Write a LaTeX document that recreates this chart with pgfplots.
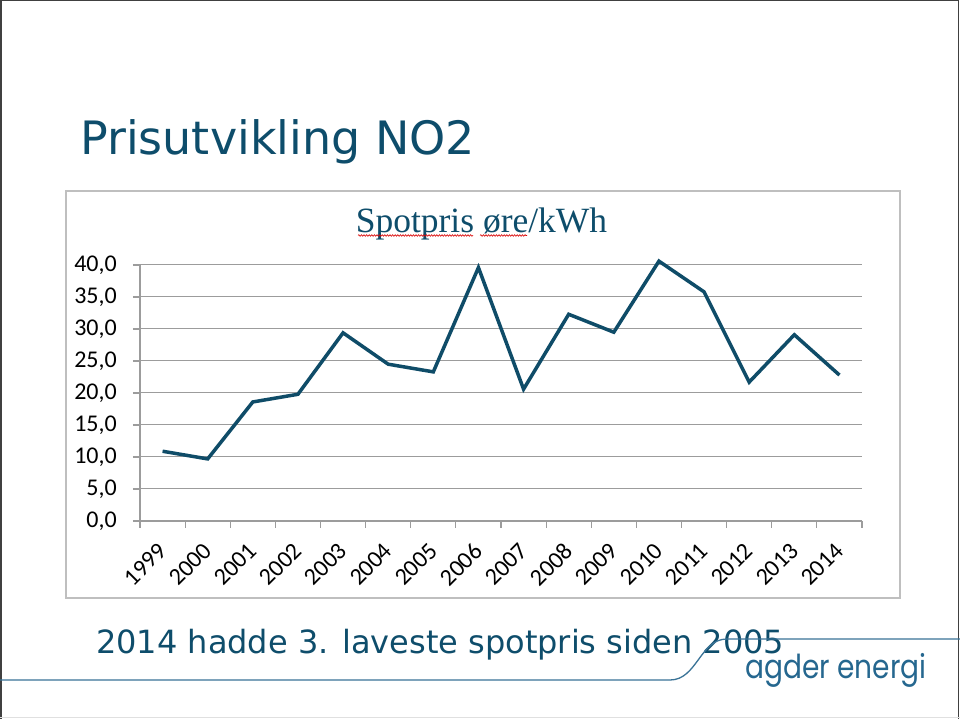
\documentclass[border=0pt]{standalone}
\usepackage{fontspec}
\setmainfont{Carlito}
\newfontfamily\titlefont{DejaVu Sans}
\newfontfamily\charttitlefont{Liberation Serif}
\newfontfamily\logofont[FakeStretch=0.85]{Poppins}
\usepackage{pgfplots}
\pgfplotsset{compat=1.18}
\usetikzlibrary{decorations.pathmorphing}
\definecolor{teal1}{HTML}{0E4D6B}
\definecolor{line1}{HTML}{0F4C68}
\definecolor{grid1}{HTML}{9C9C9C}
\definecolor{deco}{HTML}{3A7397}
\definecolor{logo}{HTML}{25678F}
\begin{document}
\begin{tikzpicture}[x=1pt,y=1pt]
\useasboundingbox (0,0) rectangle (960,719);
\fill[white] (0,0) rectangle (960,719);
% slide frame
\draw[black!75, line width=1.5pt] (0.75,0) -- (0.75,718.25) -- (958.5,718.25) -- (958.5,0);
\draw[black!12, line width=1.2pt] (0,1.2) -- (960,1.2);
% slide title
\node[anchor=base west, inner sep=0pt, text=teal1, font=\titlefont\fontsize{46}{55}\selectfont] at (80,564) {Prisutvikling NO2};
% chart box
\draw[black!25, line width=1.3pt] (66,121) rectangle (900,528);
% chart title
\node[anchor=base, inner sep=0pt, text=teal1, font=\charttitlefont\fontsize{35.5}{42}\selectfont] at (481.5,486) {Spotpris øre/kWh};
\draw[red!85!black, line width=0.6pt, decorate, decoration={snake, segment length=2.6pt, amplitude=0.8pt}] (358,483.5) -- (473,483.5);
\draw[red!85!black, line width=0.6pt, decorate, decoration={snake, segment length=2.6pt, amplitude=0.8pt}] (480,483.5) -- (527,483.5);
\begin{axis}[
  at={(140pt,198pt)}, anchor=south west,
  scale only axis, width=722pt, height=256pt,
  xmin=-0.5, xmax=15.5, ymin=0, ymax=40,
  clip=false,
  axis x line*=bottom, axis y line*=left,
  axis line style={grid1, line width=1.2pt},
  tick style={grid1, line width=1.2pt},
  tick align=outside, major tick length=7pt,
  ytick={0,5,...,40},
  ymajorgrids, major grid style={grid1, line width=1pt},
  yticklabel style={font=\fontsize{24}{28}\selectfont, anchor=east, inner sep=0pt, xshift=-16pt,
    /pgf/number format/fixed, /pgf/number format/fixed zerofill,
    /pgf/number format/precision=1, /pgf/number format/use comma,
    /pgf/number format/assume math mode=true},
  xtick={-0.5,0.5,...,15.5}, xticklabels={},
  extra x ticks={0,1,...,15},
  extra x tick labels={1999,2000,2001,2002,2003,2004,2005,2006,2007,2008,2009,2010,2011,2012,2013,2014},
  extra x tick style={major tick length=0pt, grid=none,
    xticklabel style={font=\fontsize{24}{28}\selectfont, yshift=-26pt, rotate=45, anchor=east, inner sep=0pt}},
]
\addplot[line1, line width=3.5pt, mark=none] coordinates {
(0,10.9) (1,9.7) (2,18.6) (3,19.8) (4,29.4) (5,24.5) (6,23.3) (7,39.6)
(8,20.6) (9,32.3) (10,29.5) (11,40.6) (12,35.8) (13,21.7) (14,29.1) (15,22.8)
};
\end{axis}
% bottom text and decoration
\node[anchor=base west, inner sep=0pt, text=teal1, font=\titlefont\fontsize{32}{38}\selectfont] at (96,65) {2014 hadde 3. laveste spotpris siden 2005};
\draw[deco, line width=1.3pt] (0,39) -- (670,39) .. controls (697,39) and (700,80) .. (727,80) -- (960,80);
\node[anchor=base west, inner sep=0pt, text=logo, font=\logofont\fontsize{33}{38}\selectfont] at (745,40) {agder energi};
\end{tikzpicture}
\end{document}
